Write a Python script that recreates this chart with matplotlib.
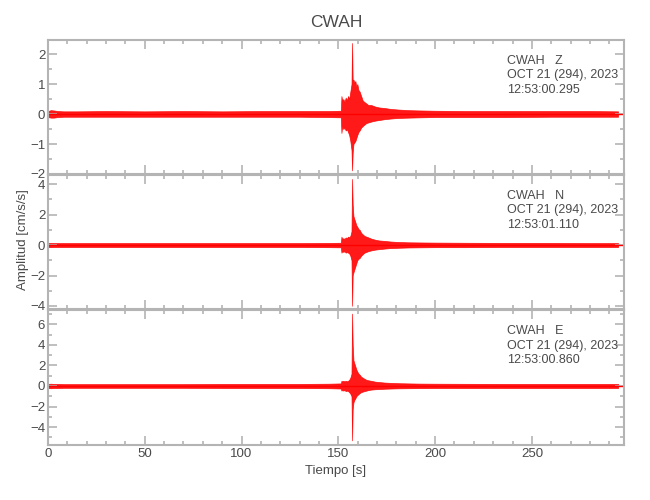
import matplotlib
matplotlib.use('Agg')
import matplotlib.pyplot as plt
from matplotlib.ticker import MultipleLocator

plt.rcParams['font.family'] = ['Liberation Sans', 'DejaVu Sans']

# envelope of the traces (time in s, amplitude in cm/s/s)
t_env = [0, 1.5, 3, 5, 8, 15, 30, 50, 70, 90, 110, 130, 145, 151.3, 151.6,
         152.0, 152.6, 153.2, 153.8, 154.4, 155.0, 155.6, 156.2, 156.8, 157.1,
         157.4, 157.8, 158.3, 158.8, 159.3, 159.8, 160.4, 161.0, 161.8, 162.6,
         163.5, 164.5, 165.5, 167, 169, 171, 174, 177, 181, 186,
         192, 200, 215, 235, 260, 280, 294.5]

z_up = [0.10, 0.13, 0.12, 0.10, 0.09, 0.09, 0.10, 0.09, 0.10, 0.09, 0.10, 0.10, 0.10, 0.11, 0.60,
        0.45, 0.50, 0.40, 0.55, 0.45, 0.60, 0.50, 0.75, 1.00, 2.37,
        1.10, 1.15, 1.05, 1.10, 0.90, 1.00, 0.80, 0.75, 0.60, 0.45,
        0.40, 0.35, 0.30, 0.30, 0.25, 0.22, 0.20, 0.17, 0.15, 0.13,
        0.12, 0.11, 0.10, 0.10, 0.10, 0.10, 0.09]
z_lo = [-0.10, -0.12, -0.12, -0.10, -0.09, -0.09, -0.09, -0.09, -0.09, -0.09, -0.09, -0.09, -0.10, -0.11, -0.63,
        -0.40, -0.50, -0.45, -0.55, -0.50, -0.60, -0.70, -0.90, -1.20, -1.88,
        -1.30, -1.00, -0.95, -0.90, -0.80, -0.70, -0.60, -0.55, -0.45, -0.40,
        -0.35, -0.30, -0.28, -0.25, -0.22, -0.20, -0.17, -0.15, -0.13, -0.12,
        -0.11, -0.10, -0.10, -0.10, -0.09, -0.09, -0.09]

n_up = [0.13, 0.14, 0.13, 0.13, 0.13, 0.13, 0.13, 0.13, 0.13, 0.13, 0.13, 0.13, 0.14, 0.15, 0.55,
        0.40, 0.45, 0.40, 0.50, 0.45, 0.55, 0.50, 0.60, 0.90, 4.34,
        2.70, 1.90, 1.70, 1.50, 1.30, 1.20, 1.05, 1.00, 0.80, 0.70,
        0.60, 0.55, 0.50, 0.42, 0.35, 0.30, 0.27, 0.23, 0.20, 0.18,
        0.17, 0.16, 0.15, 0.14, 0.14, 0.13, 0.13]
n_lo = [-0.13, -0.14, -0.13, -0.13, -0.13, -0.13, -0.13, -0.13, -0.13, -0.13, -0.13, -0.13, -0.14, -0.15, -0.50,
        -0.40, -0.45, -0.40, -0.50, -0.45, -0.50, -0.55, -0.70, -1.00, -3.99,
        -2.00, -1.80, -1.60, -1.40, -1.20, -1.00, -0.90, -0.85, -0.70, -0.60,
        -0.50, -0.45, -0.40, -0.35, -0.30, -0.27, -0.23, -0.20, -0.18, -0.16,
        -0.15, -0.14, -0.14, -0.13, -0.13, -0.13, -0.13]

e_up = [0.20, 0.22, 0.20, 0.20, 0.18, 0.18, 0.18, 0.18, 0.18, 0.20, 0.20, 0.20, 0.22, 0.25, 0.50,
        0.45, 0.50, 0.45, 0.50, 0.45, 0.50, 0.60, 0.80, 1.20, 7.05,
        4.10, 2.50, 2.20, 1.90, 1.60, 1.40, 1.20, 1.10, 0.90, 0.80,
        0.70, 0.60, 0.55, 0.50, 0.42, 0.38, 0.33, 0.30, 0.27, 0.25,
        0.23, 0.22, 0.21, 0.20, 0.20, 0.20, 0.20]
e_lo = [-0.20, -0.22, -0.20, -0.20, -0.18, -0.18, -0.18, -0.18, -0.18, -0.20, -0.20, -0.20, -0.22, -0.25, -0.45,
        -0.40, -0.45, -0.40, -0.50, -0.45, -0.50, -0.60, -0.75, -1.00, -5.30,
        -2.30, -1.60, -1.35, -1.20, -1.00, -0.90, -0.80, -0.70, -0.60, -0.55,
        -0.50, -0.45, -0.40, -0.35, -0.32, -0.30, -0.27, -0.25, -0.23, -0.22,
        -0.21, -0.20, -0.20, -0.20, -0.20, -0.20, -0.20]

components = ['Z', 'N', 'E']
start_times = ['12:53:00.295', '12:53:01.110', '12:53:00.860']
uppers = [z_up, n_up, e_up]
lowers = [z_lo, n_lo, e_lo]
ylims = [(-2.0, 2.47), (-4.2, 4.6), (-5.75, 7.4)]
ymajor = [1, 2, 2]
yminor = [0.5, 1, 1]

axis_gray = '#b4b4b4'
text_gray = '#4a4a4a'

fig = plt.figure(figsize=(6.5, 5), dpi=100)
boxes = [(0.0738, 0.652, 0.886, 0.268),
         (0.0738, 0.382, 0.886, 0.268),
         (0.0738, 0.110, 0.886, 0.270)]

for i, box in enumerate(boxes):
    ax = fig.add_axes(box)
    ax.fill_between(t_env, lowers[i], uppers[i], color='red', alpha=0.9, lw=0.5)
    ax.axhline(0, color='red', lw=1.0)
    ax.set_xlim(0, 297.5)
    ax.set_ylim(*ylims[i])
    ax.xaxis.set_major_locator(MultipleLocator(50))
    ax.xaxis.set_minor_locator(MultipleLocator(10))
    ax.yaxis.set_major_locator(MultipleLocator(ymajor[i]))
    ax.yaxis.set_minor_locator(MultipleLocator(yminor[i]))
    ax.tick_params(which='both', direction='in', top=True, right=True, pad=2,
                   color=axis_gray, labelcolor=text_gray, labelsize=9.5, width=1.2)
    ax.tick_params(which='major', length=6.5)
    ax.tick_params(which='minor', length=3.2)
    for s in ax.spines.values():
        s.set_color(axis_gray)
        s.set_linewidth(1.5)
    if i < 2:
        ax.set_xticklabels([])
    ax.text(0.797, 0.89, 'CWAH   ' + components[i] + '\nOCT 21 (294), 2023\n' + start_times[i],
            transform=ax.transAxes, ha='left', va='top', fontsize=9,
            color=text_gray, linespacing=1.3)

fig.text(0.517, 0.955, 'CWAH', ha='center', va='center', fontsize=12.5, color=text_gray)
fig.text(0.517, 0.058, 'Tiempo [s]', ha='center', va='center', fontsize=9.5, color=text_gray)
fig.text(0.036, 0.52, 'Amplitud [cm/s/s]', ha='center', va='center', rotation=90,
         fontsize=9.5, color=text_gray)

plt.savefig('out.png', dpi=100)
